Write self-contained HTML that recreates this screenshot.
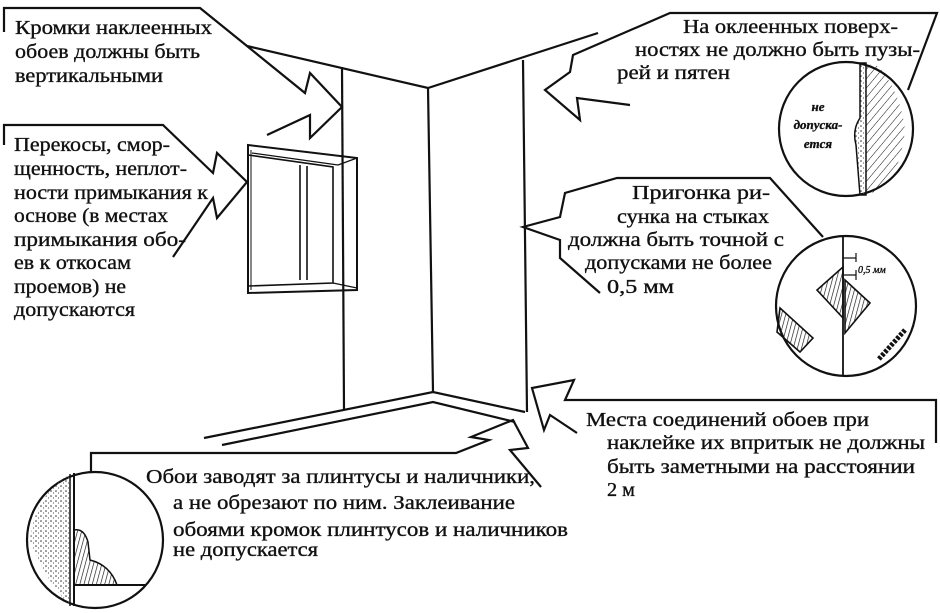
<!DOCTYPE html>
<html><head><meta charset="utf-8"><style>
html,body{margin:0;padding:0;background:#fff;}
svg{display:block;}
text{font-family:"Liberation Serif","DejaVu Serif",serif;fill:#111;stroke:#111;stroke-width:0.35;}
</style></head><body>
<svg width="940" height="613" viewBox="0 0 940 613" xmlns="http://www.w3.org/2000/svg">
<defs>
<pattern id="h" width="4" height="4" patternUnits="userSpaceOnUse" patternTransform="rotate(15)"><line x1="0" y1="0" x2="0" y2="4" stroke="#111" stroke-width="1.3"/></pattern>
<pattern id="d" width="6" height="6" patternUnits="userSpaceOnUse" patternTransform="rotate(40)"><line x1="0" y1="0" x2="0" y2="6" stroke="#111" stroke-width="1"/></pattern>
<pattern id="s" width="5" height="5" patternUnits="userSpaceOnUse"><circle cx="1" cy="1" r="0.8" fill="#333"/><circle cx="3.5" cy="3" r="0.6" fill="#555"/></pattern>
</defs>
<g fill="none" stroke="#111" stroke-width="2.2" stroke-linejoin="miter">
<polyline points="247,46 428,88 598,33"/>
<line x1="342" y1="67" x2="344" y2="410"/>
<line x1="428" y1="88" x2="433" y2="392"/>
<line x1="523" y1="60" x2="527" y2="412"/>
<polyline points="204,438 433,392 525,412"/>
<polyline points="222,445 433,402 515,422"/>
<polygon points="248,145 357,158 357,290 248,293" stroke-width="2"/>
<polyline points="248,155 333,167 333,283 248,286" stroke-width="1.6"/>
<polyline points="252,153 338,165" stroke-width="1.2"/>
<line x1="300" y1="165" x2="300" y2="280" stroke-width="1.6"/>
<line x1="307" y1="166" x2="307" y2="280" stroke-width="1.6"/>
<line x1="338" y1="165" x2="357" y2="158" stroke-width="1.2"/>
<line x1="333" y1="283" x2="357" y2="288" stroke-width="1.2"/>
<line x1="251" y1="150" x2="251" y2="290" stroke-width="1"/>
<polyline points="4,32 4,8 200,8 247,46 305,93 310,73 342,107 310,138 310,115 267,135"/>
<polyline points="4,145 4,125 163,125 213,173 217,153 247,182 217,218 213,198 173,257"/>
<polyline points="908,90 937,13 670,13 573,55 570,72 545,90 580,120 577,98 630,105"/>
<polyline points="823,237 770,178 617,178 565,193 560,217 523,227 560,240 560,258 600,293"/>
<polyline points="936,443 936,400 565,400 574,380 532,388 544,430 550,415 577,433"/>
<polyline points="91,472 91,453 456,453 489,440 471,437 513,420 528,448 510,450 541,487"/>
<circle cx="846" cy="129" r="67"/>
</g>
<g stroke="#111" fill="none">
<path d="M860,63 L860,118 Q852,130 856,145 L860,195 L866,195 L866,63 Z" fill="url(#s)" stroke-width="1.5"/>
<path d="M866,64 L878,66 Q900,90 905,130 Q900,175 880,190 L866,195 Z" fill="url(#d)" stroke="none"/>
<circle cx="846" cy="306" r="70" stroke-width="2.2"/>
<line x1="843" y1="237" x2="843" y2="375" stroke-width="1.8"/>
<polygon points="843,267 817,290 843,318" fill="url(#h)" stroke-width="1.6"/>
<polygon points="845,280 870,303 845,333" fill="url(#h)" stroke-width="1.6"/>
<polygon points="780,308 813,338 800,352 777,332" fill="url(#h)" stroke-width="1.6"/>
<path d="M905,330 L878,360" stroke-width="5" stroke-dasharray="3,1.5"/>
<path d="M843,258 H856 M856,253 V262 M843,275 H856 M856,270 V280" stroke-width="1.2"/>
<circle cx="95" cy="540" r="68" stroke-width="2.2"/>
<path d="M70,474 L70,606 Q45,580 30,540 Q35,495 70,474 Z" fill="url(#s)" stroke="none"/>
<line x1="70" y1="474" x2="70" y2="606" stroke-width="1.5"/>
<line x1="74" y1="473" x2="74" y2="606" stroke-width="2"/>
<line x1="74" y1="585" x2="145" y2="585" stroke-width="2"/>
<path d="M74,530 Q84,528 88,542 L90,560 Q110,565 117,585 L74,585 Z" fill="url(#h)" stroke-width="1.5"/>
</g>
<g font-size="20" lengthAdjust="spacingAndGlyphs">
<text x="15" y="34" textLength="197" lengthAdjust="spacingAndGlyphs">Кромки наклеенных</text>
<text x="15" y="58" textLength="185" lengthAdjust="spacingAndGlyphs">обоев должны быть</text>
<text x="15" y="82" textLength="148" lengthAdjust="spacingAndGlyphs">вертикальными</text>

<text x="14" y="151" textLength="156" lengthAdjust="spacingAndGlyphs">Перекосы, смор-</text>
<text x="14" y="175" textLength="173" lengthAdjust="spacingAndGlyphs">щенность, неплот-</text>
<text x="14" y="199" textLength="194" lengthAdjust="spacingAndGlyphs">ности примыкания к</text>
<text x="14" y="222" textLength="154" lengthAdjust="spacingAndGlyphs">основе (в местах</text>
<text x="14" y="246" textLength="172" lengthAdjust="spacingAndGlyphs">примыкания обо-</text>
<text x="14" y="269" textLength="117" lengthAdjust="spacingAndGlyphs">ев к откосам</text>
<text x="14" y="293" textLength="112" lengthAdjust="spacingAndGlyphs">проемов) не</text>
<text x="14" y="316" textLength="121" lengthAdjust="spacingAndGlyphs">допускаются</text>

<text x="683" y="33" textLength="215" lengthAdjust="spacingAndGlyphs">На оклеенных поверх-</text>
<text x="635" y="56" textLength="285" lengthAdjust="spacingAndGlyphs">ностях не должно быть пузы-</text>
<text x="617" y="79" textLength="113" lengthAdjust="spacingAndGlyphs">рей и пятен</text>

<text x="632" y="199" textLength="138" lengthAdjust="spacingAndGlyphs">Пригонка ри-</text>
<text x="617" y="223" textLength="152" lengthAdjust="spacingAndGlyphs">сунка на стыках</text>
<text x="568" y="246" textLength="216" lengthAdjust="spacingAndGlyphs">должна быть точной с</text>
<text x="585" y="269" textLength="187" lengthAdjust="spacingAndGlyphs">допусками не более</text>
<text x="607" y="293" textLength="67" lengthAdjust="spacingAndGlyphs">0,5 мм</text>

<text x="586" y="426" textLength="283" lengthAdjust="spacingAndGlyphs">Места соединений обоев при</text>
<text x="607" y="449" textLength="318" lengthAdjust="spacingAndGlyphs">наклейке их впритык не должны</text>
<text x="607" y="473" textLength="308" lengthAdjust="spacingAndGlyphs">быть заметными на расстоянии</text>
<text x="607" y="496" textLength="28" lengthAdjust="spacingAndGlyphs">2 м</text>

<text x="146" y="483" textLength="389" lengthAdjust="spacingAndGlyphs">Обои заводят за плинтусы и наличники,</text>
<text x="173" y="509" textLength="342" lengthAdjust="spacingAndGlyphs">а не обрезают по ним. Заклеивание</text>
<text x="173" y="536" textLength="395" lengthAdjust="spacingAndGlyphs">обоями кромок плинтусов и наличников</text>
<text x="173" y="556" textLength="145" lengthAdjust="spacingAndGlyphs">не допускается</text>
</g>
<g font-size="13" font-style="italic" text-anchor="middle" font-weight="bold">
<text x="818" y="111">не</text>
<text x="818" y="129">допуска-</text>
<text x="818" y="148">ется</text>
</g>
<text x="858" y="273" font-size="10" font-style="italic">0,5 мм</text>
</svg>
</body></html>
